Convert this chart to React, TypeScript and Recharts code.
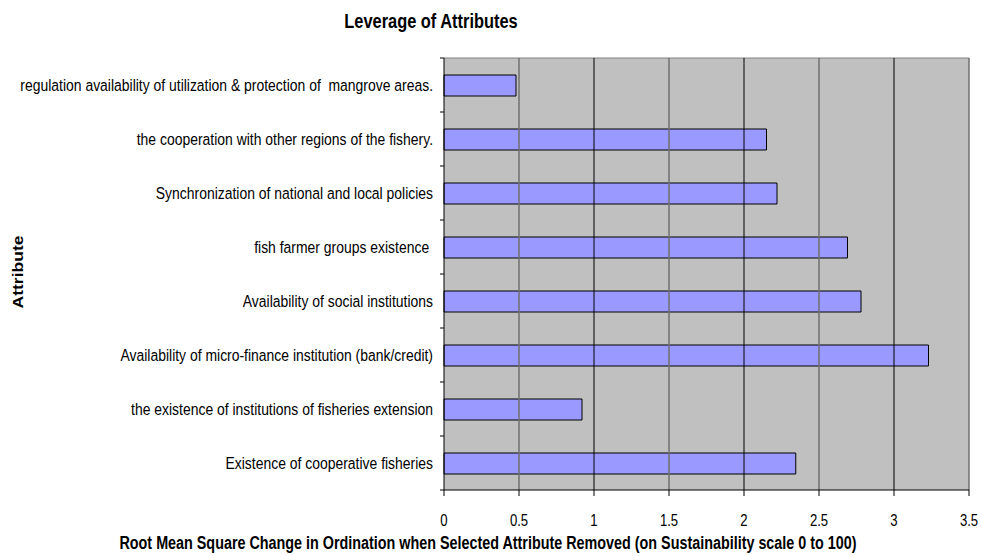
import React from 'react';
import { BarChart, Bar, XAxis, YAxis, CartesianGrid, ReferenceLine } from 'recharts';

const attributes = [
  'regulation availability of utilization & protection of  mangrove areas.',
  'the cooperation with other regions of the fishery.',
  'Synchronization of national and local policies',
  'fish farmer groups existence ',
  'Availability of social institutions',
  'Availability of micro-finance institution (bank/credit)',
  'the existence of institutions of fisheries extension',
  'Existence of cooperative fisheries',
];

const leverage = [0.48, 2.15, 2.22, 2.69, 2.78, 3.23, 0.92, 2.345];

const xTicks = [0, 0.5, 1, 1.5, 2, 2.5, 3, 3.5];

const data = attributes.map((name, i) => ({ name, value: leverage[i] }));

const W = 981;
const H = 556;
const M = { top: 58, right: 12, bottom: 36, left: 0 };
const X_AXIS_H = 30;
const Y_AXIS_W = 444;
const FONT = '"Liberation Sans", Arial, sans-serif';
// the original uses a narrow face; squeeze a regular one to match
const NARROW = 0.82;

const halfBand = (H - M.top - M.bottom - X_AXIS_H) / attributes.length / 2;

function AttributeTick(props: any) {
  const { x, y, payload, index } = props;
  return (
    <g>
      <line x1={x - 4} y1={y - halfBand} x2={x} y2={y - halfBand} stroke="#000" />
      {index === attributes.length - 1 && (
        <line x1={x - 4} y1={y + halfBand} x2={x} y2={y + halfBand} stroke="#000" />
      )}
      <text
        transform={`translate(${x - 11},${y}) scale(${NARROW},1)`}
        x={0}
        y={0}
        dy="0.36em"
        textAnchor="end"
        fontSize={17}
        fontFamily={FONT}
        fill="#000"
        style={{ whiteSpace: 'pre' }}
      >
        {payload.value}
      </text>
    </g>
  );
}

function ValueTick(props: any) {
  const { x, y, payload } = props;
  return (
    <text
      transform={`translate(${x},${y}) scale(${NARROW},1)`}
      x={0}
      y={0}
      dy="0.71em"
      textAnchor="middle"
      fontSize={16}
      fontFamily={FONT}
      fill="#000"
    >
      {String(payload.value)}
    </text>
  );
}

export default function App() {
  return (
    <div style={{ position: 'absolute', left: 0, top: 0, width: W, height: H, background: '#fff' }}>
      <BarChart width={W} height={H} data={data} layout="vertical" margin={M} barSize={21}>
        <CartesianGrid
          vertical={false}
          horizontal
          fill="#C0C0C0"
          stroke="#808080"
          horizontalCoordinatesGenerator={({ offset }: any) => [offset.top]}
        />
        {xTicks.slice(1).map((t) => (
          <ReferenceLine
            key={t}
            x={t}
            stroke={Number.isInteger(t) ? '#000' : '#707070'}
            strokeWidth={Number.isInteger(t) ? 1 : 1.5}
          />
        ))}
        <XAxis
          type="number"
          domain={[0, 3.5]}
          ticks={xTicks}
          height={X_AXIS_H}
          tickSize={6}
          tickMargin={19}
          stroke="#000"
          tick={<ValueTick />}
        />
        <YAxis
          type="category"
          dataKey="name"
          width={Y_AXIS_W}
          tickLine={false}
          tickSize={0}
          tickMargin={0}
          stroke="#000"
          interval={0}
          tick={<AttributeTick />}
        />
        <Bar dataKey="value" fill="#9999FF" stroke="#000" strokeWidth={1} isAnimationActive={false} />
      </BarChart>
      <div
        style={{
          position: 'absolute',
          left: 231,
          width: 400,
          top: 11,
          lineHeight: '20px',
          textAlign: 'center',
          fontFamily: FONT,
          fontWeight: 'bold',
          fontSize: 20,
          transform: `scaleX(${NARROW})`,
        }}
      >
        Leverage of Attributes
      </div>
      <div
        style={{
          position: 'absolute',
          left: 0,
          width: 976,
          top: 534,
          lineHeight: '18px',
          textAlign: 'center',
          fontFamily: FONT,
          fontWeight: 'bold',
          fontSize: 17.5,
          whiteSpace: 'pre',
          transform: `scaleX(${NARROW})`,
        }}
      >
        Root Mean Square Change in Ordination when Selected Attribute Removed (on Sustainability scale 0 to 100)
      </div>
      <div
        style={{
          position: 'absolute',
          left: 18,
          top: 272,
          lineHeight: '18px',
          whiteSpace: 'pre',
          transform: `translate(-50%, -50%) scaleX(${NARROW}) rotate(-90deg)`,
          fontFamily: FONT,
          fontWeight: 'bold',
          fontSize: 17.5,
        }}
      >
        Attribute
      </div>
    </div>
  );
}
